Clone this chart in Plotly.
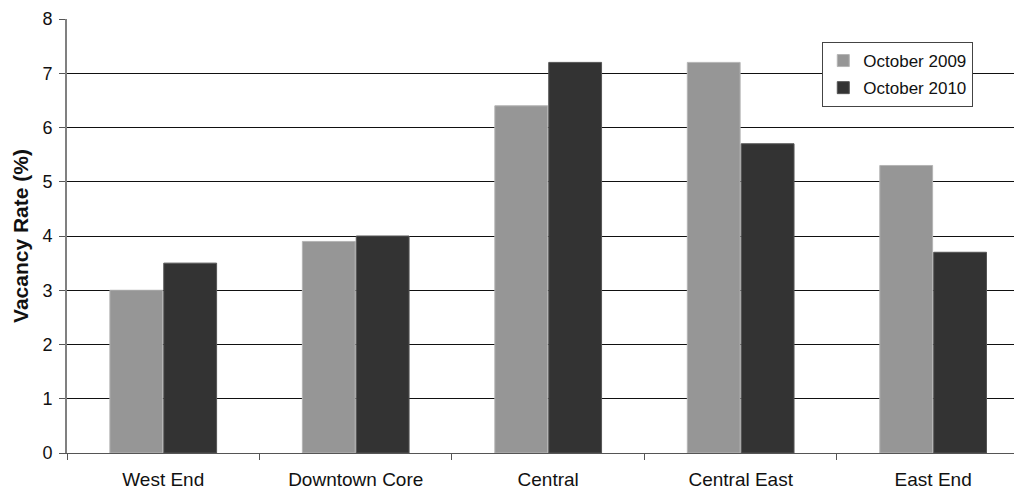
import plotly.graph_objects as go

categories = ["West End", "Downtown Core", "Central", "Central East", "East End"]
oct_2009 = [3.0, 3.9, 6.4, 7.2, 5.3]
oct_2010 = [3.5, 4.0, 7.2, 5.7, 3.7]

FONT = "Liberation Sans, Arial, sans-serif"

fig = go.Figure()
fig.add_trace(go.Bar(
    x=categories, y=oct_2009, name="October 2009", legendgroup="a",
    marker=dict(color="#969696", line=dict(color="#b4b4b4", width=1)),
))
fig.add_trace(go.Bar(
    x=categories, y=oct_2010, name="October 2010", legendgroup="b",
    marker=dict(color="#333333", line=dict(color="#555555", width=1)),
))

fig.update_layout(
    width=1014, height=493,
    margin=dict(l=67, r=0, t=19, b=40),
    paper_bgcolor="white", plot_bgcolor="white",
    barmode="group", bargap=0.44, bargroupgap=0.02,
    font=dict(family=FONT, size=18, color="#111111"),
    showlegend=True,
    legend=dict(
        x=0.957, y=0.947, xanchor="right", yanchor="top",
        bgcolor="white", bordercolor="#444444", borderwidth=1,
        font=dict(family=FONT, size=17, color="#111111"),
        itemwidth=30, tracegroupgap=2,
    ),
)

fig.update_xaxes(
    range=[-0.5, 4.42],
    showgrid=False, showline=True, linecolor="#555555", linewidth=1,
    ticks="outside", tickson="boundaries", ticklen=6, tickcolor="#555555",
    tickfont=dict(size=19), ticklabelstandoff=9,
)
fig.update_yaxes(
    range=[0, 8], dtick=1,
    showgrid=True, gridcolor="#111111", gridwidth=1,
    showline=True, linecolor="#808080", linewidth=2,
    ticks="outside", ticklen=6, tickcolor="#555555",
    tickfont=dict(size=18), ticklabelstandoff=3,
    zeroline=False,
    title=dict(text="<b>Vacancy Rate (%)</b>", font=dict(size=21), standoff=8),
)

fig.write_html("out.html")
